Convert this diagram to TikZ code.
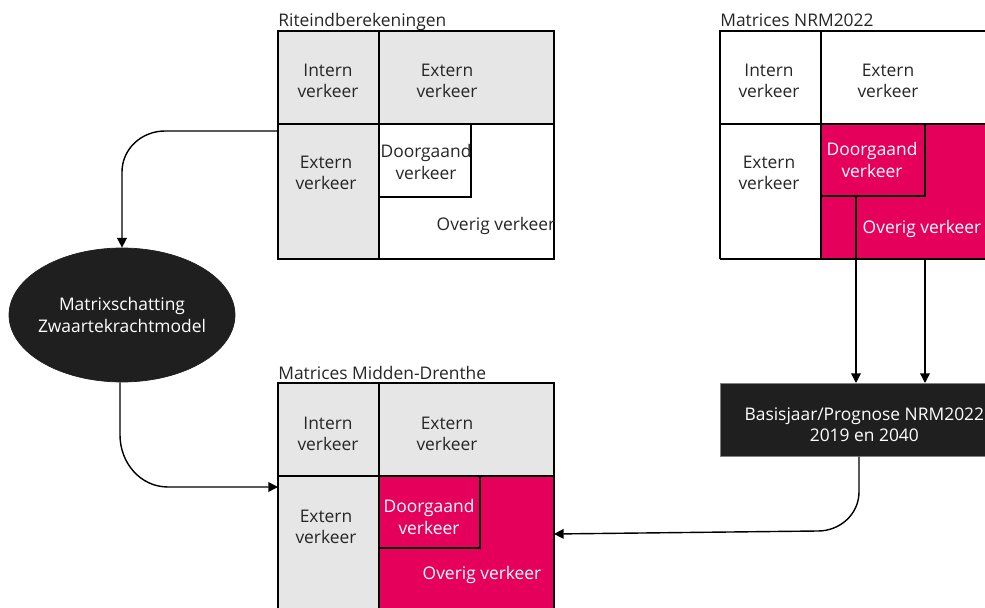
\documentclass[tikz,border=0pt]{standalone}
\usepackage{fontspec}
\setmainfont{Open Sans}
\usepackage{xcolor}
\usetikzlibrary{arrows.meta,shapes.geometric}

\definecolor{celgrijs}{HTML}{E6E6E6}
\definecolor{roze}{HTML}{E5005C}
\definecolor{donker}{HTML}{1F1F1F}
\definecolor{tekst}{HTML}{262626}

\begin{document}
\begin{tikzpicture}[x=0.02cm,y=-0.02cm,
            lbl/.style={align=center, text=tekst, font=\fontsize{9.9}{12}\selectfont, inner sep=0pt},
            wlbl/.style={lbl, text=white},
            titel/.style={anchor=base west, inner sep=0pt, text=tekst, font=\fontsize{9.9}{12}\selectfont},
            rand/.style={draw=black, line width=1pt},
            pijl/.style={line width=0.8pt, -{Triangle[length=5.5pt,width=5.5pt]}}]
        \useasboundingbox (0,0) rectangle (985,608);

        % Riteindberekeningen
        \fill[celgrijs] (278,31) rectangle (554,124) (278,124) rectangle (379,259);
        \draw[rand] (278,31) rectangle (554,259);
        \draw[rand] (379,31) -- (379,259) (278,124) -- (554,124);
        \draw[rand] (379,124) rectangle (471,197);
        \node[titel] (ritT) at (278,27) {Riteindberekeningen};
        \node[lbl] (ritII) at (328,81) {Intern\\verkeer};
        \node[lbl] (ritIE) at (447,81) {Extern\\verkeer};
        \node[lbl] (ritEI) at (326,173) {Extern\\verkeer};
        \node[lbl] (ritD) at (426,162) {Doorgaand\\verkeer};
        \node[lbl] (ritO) at (496,226) {Overig verkeer};
        \coordinate (ritL) at (278,131);

        % Matrices NRM2022
        \fill[roze] (821,124) rectangle (990,259);
        \draw[rand] (720,259) -- (720,31) -- (990,31) (990,259) -- (720,259);
        \draw[rand] (821,31) -- (821,259) (720,124) -- (990,124);
        \draw[rand] (821,124) rectangle (925,196);
        \node[titel] (nrmT) at (720,27) {Matrices NRM2022};
        \node[lbl] (nrmII) at (769,81) {Intern\\verkeer};
        \node[lbl] (nrmIE) at (888,81) {Extern\\verkeer};
        \node[lbl] (nrmEI) at (769,173) {Extern\\verkeer};
        \node[wlbl] (nrmD) at (872,160) {Doorgaand\\verkeer};
        \node[wlbl] (nrmO) at (922,229) {Overig verkeer};
        \coordinate (nrmD1) at (856,196);
        \coordinate (nrmO1) at (925,259);

        % Matrices Midden-Drenthe
        \fill[celgrijs] (278,383) rectangle (554,476) (278,476) rectangle (379,612);
        \fill[roze] (379,476) rectangle (554,612);
        \draw[rand] (278,612) -- (278,383) -- (554,383) -- (554,612);
        \draw[rand] (379,383) -- (379,612) (278,476) -- (554,476);
        \draw[rand] (379,476) rectangle (480,548);
        \node[titel] (mdT) at (278,379) {Matrices Midden-Drenthe};
        \node[lbl] (mdII) at (328,434) {Intern\\verkeer};
        \node[lbl] (mdIE) at (447,434) {Extern\\verkeer};
        \node[lbl] (mdEI) at (326,527) {Extern\\verkeer};
        \node[wlbl] (mdD) at (429,517) {Doorgaand\\verkeer};
        \node[wlbl] (mdO) at (482,575) {Overig verkeer};
        \coordinate (mdL) at (278,487);
        \coordinate (mdR) at (554,534);

        % schatting en basisjaar
        \node[ellipse, fill=donker, draw=donker, minimum width=226*0.02cm, minimum height=134*0.02cm,
              wlbl, inner xsep=-3pt] (schat) at (122,315) {Matrixschatting\\Zwaartekrachtmodel};
        \node[draw=gray, fill=donker, minimum width=288*0.02cm, minimum height=73*0.02cm,
              anchor=north west] (basis) at (720,383) {};
        \node[wlbl] (basisT) at ([yshift=-3pt]basis.center) {Basisjaar/Prognose NRM2022\\2019 en 2040};

        % verbindingen
        \draw[pijl] (ritL) -- (165,131) to[out=180,in=90] (122,172) -- (schat.north);
        \draw[pijl] (schat.south -| 120,0) -- (120,435) to[out=-90,in=180] (168,487) -- (mdL);
        \draw[pijl] (nrmD1) -- (nrmD1 |- basis.north);
        \draw[pijl] (nrmO1) -- (nrmO1 |- basis.north);
        \draw[pijl] (basis.south -| 859,0) -- (859,492) to[out=-90,in=0] (818,531) -- (mdR);
\end{tikzpicture}
\end{document}
